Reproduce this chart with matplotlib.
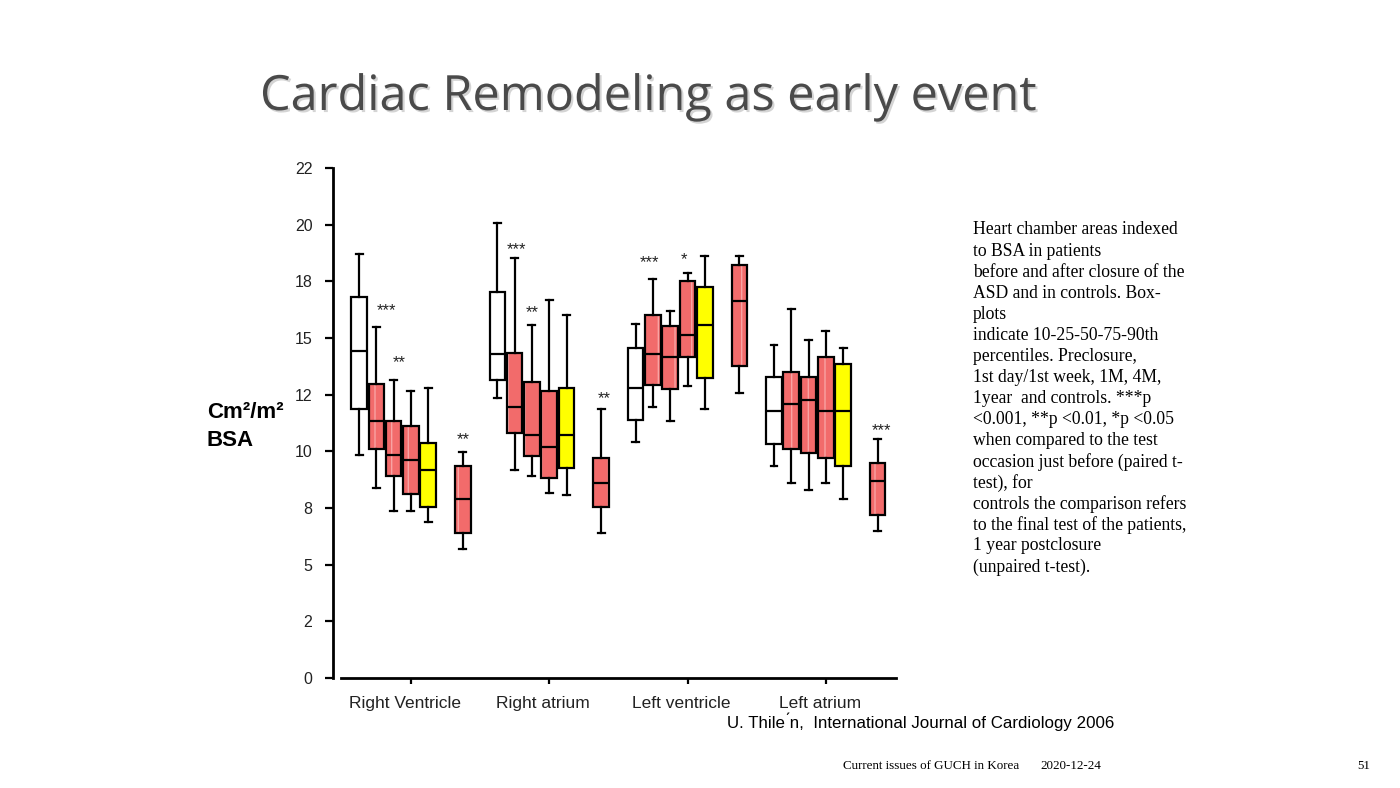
import matplotlib
matplotlib.use('Agg')
from matplotlib import pyplot as plt
import matplotlib.patheffects as pe
import numpy as np

# chambers and the six boxes of each group
chambers = ['Right Ventricle', 'Right atrium', 'Left ventricle', 'Left atrium']
box_colors = ['white', '#f26b6b', '#f26b6b', '#f26b6b', '#ffff00', '#f26b6b']
box_offsets = [0, 1, 2, 3, 4, 6]

# 10-25-50-75-90th percentiles (cm2/m2 BSA)
p10 = [9.84, 8.38, 7.35, 7.35, 6.88, 5.71,
       12.34, 9.18, 8.91, 8.15, 8.06, 6.38,
       10.40, 11.97, 11.34, 12.90, 11.87, 12.59,
       9.37, 8.62, 8.29, 8.62, 7.90, 6.49]
p25 = [11.85, 10.10, 8.91, 8.12, 7.56, 6.41,
       13.15, 10.82, 9.79, 8.84, 9.25, 7.53,
       11.38, 12.93, 12.74, 14.16, 13.22, 13.76,
       10.34, 10.09, 9.94, 9.69, 9.37, 7.19]
p50 = [14.44, 11.34, 9.85, 9.60, 9.18, 7.88,
       14.29, 11.97, 10.72, 10.21, 10.72, 8.59,
       12.79, 14.29, 14.15, 15.15, 15.56, 16.62,
       11.78, 12.10, 12.25, 11.80, 11.78, 8.71]
p75 = [16.82, 12.97, 11.34, 11.13, 10.35, 9.37,
       17.04, 14.35, 13.04, 12.65, 12.79, 9.69,
       14.57, 16.00, 15.53, 17.51, 17.24, 18.22,
       13.28, 13.49, 13.26, 14.15, 13.85, 9.47]
p90 = [18.70, 15.49, 13.15, 12.66, 12.79, 9.99,
       20.09, 18.51, 15.56, 16.68, 16.01, 11.88,
       15.62, 17.59, 16.18, 17.85, 18.62, 18.62,
       14.68, 16.26, 14.91, 15.32, 14.54, 10.54]

# significance marks: group, x offset within group, y, label
star_group = [0, 0, 0, 1, 1, 1, 2, 2, 3]
star_off = [1.6, 2.3, 6.0, 1.1, 2.0, 6.2, 0.8, 2.8, 6.2]
star_y = [16.2, 13.9, 10.5, 18.88, 16.1, 12.34, 18.34, 18.44, 10.93]
star_txt = ['***', '**', '**', '***', '**', '**', '***', '*', '***']

ytick_vals = [0, 2.5, 5, 7.5, 10, 12.5, 15, 17.5, 20, 22.5]
ytick_labels = ['0', '2', '5', '8', '10', '12', '15', '18', '20', '22']

note_lines = ['Heart chamber areas indexed',
              'to BSA in patients',
              'before and after closure of the',
              'ASD and in controls. Box-',
              'plots',
              'indicate 10-25-50-75-90th',
              'percentiles. Preclosure,',
              '1st day/1st week, 1M, 4M,',
              '1year  and controls. ***p',
              '<0.001, **p <0.01, *p <0.05',
              'when compared to the test',
              'occasion just before (paired t-',
              'test), for',
              'controls the comparison refers',
              'to the final test of the patients,',
              '1 year postclosure',
              '(unpaired t-test).']

fig = plt.figure(figsize=(14, 7.88), dpi=100)
ax = fig.add_axes([333.3 / 1400, 110 / 788, 563.4 / 1400, 510 / 788])

stats = []
positions = []
colors = []
for g in range(len(chambers)):
    for k in range(6):
        i = g * 6 + k
        stats.append(dict(whislo=p10[i], q1=p25[i], med=p50[i], q3=p75[i],
                          whishi=p90[i], fliers=[]))
        positions.append(g * 8 + box_offsets[k])
        colors.append(box_colors[k])

# filled boxes with faint vertical stripes
fill = ax.bxp(stats, positions=positions, widths=0.9, patch_artist=True,
              showfliers=False, showcaps=False,
              whiskerprops=dict(linewidth=0), medianprops=dict(linewidth=0))
for patch, c in zip(fill['boxes'], colors):
    patch.set_facecolor(c)
    patch.set_linewidth(0)
    if c == '#f26b6b':
        patch.set_hatch('|')
        patch.set_edgecolor('#f9a3a3')

# black outlines on top
ax.bxp(stats, positions=positions, widths=0.9, patch_artist=True,
       showfliers=False, capwidths=0.4,
       boxprops=dict(facecolor='none', edgecolor='black', linewidth=1.6),
       whiskerprops=dict(color='black', linewidth=1.6),
       capprops=dict(color='black', linewidth=1.6),
       medianprops=dict(color='black', linewidth=1.6))

for g, off, y, t in zip(star_group, star_off, star_y, star_txt):
    ax.text(g * 8 + off, y, t, ha='center', va='center', fontsize=12,
            family='Liberation Sans', color='#222222')

ax.set_xlim(-1.49, 31.1)
ax.set_ylim(0, 22.5)
ax.set_yticks(ytick_vals)
ax.set_yticklabels(ytick_labels, family='Liberation Sans', fontsize=11.5,
                   color='#222222')
# tick marks at group centres, labels sit slightly to the left of them
ax.set_xticks([g * 8 + 3 for g in range(len(chambers))])
ax.set_xticklabels([])
ax.set_xticks([g * 8 + 2.65 for g in range(len(chambers))], minor=True)
ax.set_xticklabels(chambers, minor=True, family='Liberation Sans',
                   fontsize=12.5, color='#222222')
ax.tick_params(axis='y', length=6, width=1.6, pad=9)
ax.tick_params(axis='x', which='major', length=4, width=1.6)
ax.tick_params(axis='x', which='minor', length=0, pad=13)
for s in ['top', 'right']:
    ax.spines[s].set_visible(False)
ax.spines['left'].set_linewidth(2)
ax.spines['bottom'].set_linewidth(2)
ax.spines['bottom'].set_bounds(-1.06, 31.08)
ax.patch.set_alpha(0)

fig.text(207 / 1400, 1 - 412 / 788, 'Cm\u00b2/m\u00b2',
         family='Liberation Sans', weight='bold', fontsize=16,
         va='center', ha='left')
fig.text(207 / 1400, 1 - 440 / 788, 'BSA', family='Liberation Sans',
         weight='bold', fontsize=16, va='center', ha='left')

title = fig.text(260 / 1400, 1 - 97 / 788, 'Cardiac Remodeling as early event',
                 family='Open Sans', fontsize=35, color='#4a4a4a',
                 va='center', ha='left')
title.set_path_effects([pe.withSimplePatchShadow(offset=(1.5, -1.5),
                                                 shadow_rgbFace='#aaaaaa',
                                                 alpha=0.5)])

for n, line in enumerate(note_lines):
    fig.text(973 / 1400, 1 - (230 + n * 21.06) / 788, line,
             family='Liberation Serif', fontsize=12.7, va='center', ha='left')

fig.text(727 / 1400, 1 - 722 / 788,
         'U. Thile \u0301n,  International Journal of Cardiology 2006',
         family='Liberation Sans', fontsize=12.2, va='center', ha='left')
fig.text(843 / 1400, 1 - 766 / 788, 'Current issues of GUCH in Korea',
         family='Liberation Serif', fontsize=9.4, va='center', ha='left')
fig.text(1040 / 1400, 1 - 766 / 788, '2020-12-24',
         family='Liberation Serif', fontsize=9.4, va='center', ha='left')
fig.text(1357 / 1400, 1 - 766 / 788, '51',
         family='Liberation Serif', fontsize=9.4, va='center', ha='left')

fig.savefig('out.png', dpi=100)
